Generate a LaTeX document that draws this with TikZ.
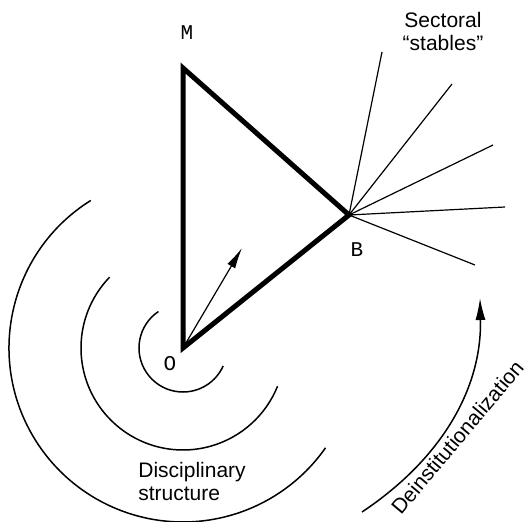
\documentclass[tikz,border=0pt]{standalone}
\usepackage{fontspec}
\setmainfont{Liberation Sans}
\newfontfamily\cornerfont{Liberation Mono}
\usetikzlibrary{arrows.meta}

\begin{document}
\begin{tikzpicture}[
    x=0.5pt, y=0.5pt,
    font=\fontsize{10.5}{11.5}\selectfont,
    side/.style={line width=2.5pt, line join=miter},
    ray/.style={line width=0.6pt},
    ring/.style={line width=0.75pt},
    vertex/.style={font=\fontsize{10.5}{12}\selectfont\cornerfont, inner sep=0pt}
]
\useasboundingbox (0,0) rectangle (526,521);

% corners of the triangle
\coordinate (O) at (183,173);
\coordinate (M) at (183,453);
\coordinate (B) at (349,306);
\draw[side] (O) -- (M) -- (B) -- cycle;

\node[vertex] (labM) at (187,488) {M};
\node[vertex] (labB) at (357,271) {B};
\node[vertex] (labO) at (170,157) {O};

% direction of growth
\coordinate (grow) at (242,273);
\draw[ray, -{Latex[length=10.5pt,width=4.5pt]}] (O) -- (grow);

% sectoral rays
\coordinate (s1) at (382,469);
\coordinate (s2) at (452,437);
\coordinate (s3) at (493,376);
\coordinate (s4) at (505,314);
\coordinate (s5) at (475,256);
\foreach \s in {s1,s2,s3,s4,s5}
  \draw[ray] (B) -- (\s);
\node[align=center] (stables) at (443,490) {Sectoral\\“stables”};

% rings around O
\foreach \r/\a/\b in {22pt/124/336, 51pt/136/338, 87pt/122/325}
  \draw[ring] ([shift={(\a:\r)}]O) arc[start angle=\a, end angle=\b, radius=\r];
\node[align=left, anchor=north west, inner sep=0pt] (disc) at (138,59) {Disciplinary\\structure};

% deinstitutionalization
\coordinate (d0) at (362,9);
\coordinate (d1) at (480,223);
\draw[ring, -{Latex[length=11pt,width=5pt]}] (d0) .. controls (440,61) and (482,131) .. (d1);
\node[rotate=50, anchor=base] (deinst) at (463,79) {Deinstitutionalization};
\end{tikzpicture}
\end{document}
